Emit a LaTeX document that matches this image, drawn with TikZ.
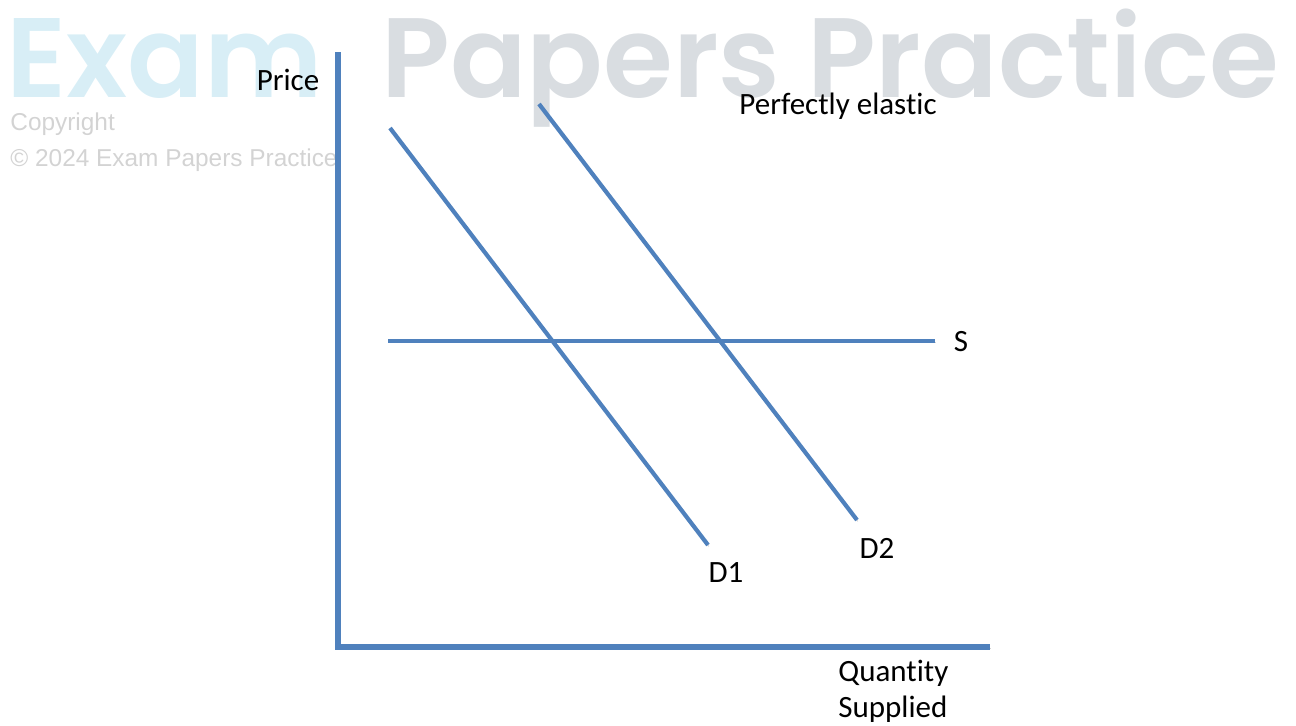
\documentclass[tikz,border=0pt]{standalone}
\usepackage{fontspec}
\setmainfont{Carlito}[Ligatures=CommonOff]
\newfontfamily\markfont{Poppins SemiBold}
\newfontfamily\notefont{Liberation Sans}
\usetikzlibrary{positioning}
\definecolor{CurveBlue}{HTML}{4F81BD}
\definecolor{MarkBlue}{HTML}{D8EEF6}
\definecolor{MarkGray}{HTML}{D9DDE1}
\definecolor{NoteGray}{HTML}{D3D3D3}

\begin{document}
\begin{tikzpicture}[
    x=0.5pt, y=-0.5pt,
    shade/.style={preaction={draw=black, opacity=0.18, transform canvas={shift={(0.4pt,-0.7pt)}}}},
    axis/.style={shade, draw=CurveBlue, line width=2.6pt},
    curve/.style={shade, draw=CurveBlue, line width=2.1pt},
    label/.style={font=\fontsize{15.5}{18}\selectfont, inner sep=0pt},
    wmark/.style={font=\markfont\fontsize{56.5}{60}\selectfont, inner sep=0pt, anchor=base west},
    note/.style={font=\notefont\fontsize{12.2}{14}\selectfont, text=NoteGray, inner sep=0pt, anchor=base west}
]
\useasboundingbox (0,0) rectangle (1296,725);

% watermark
\node[wmark, text=MarkBlue] (wmexam) at (6,97) {Exam};
\node[wmark, text=MarkGray] (wmpapers) at (381,97) {Papers Practice};
\node[note] (wmcopy) at (10,130) {Copyright};
\node[note] (wmyear) at (10,166) {\textcopyright{} 2024 Exam Papers Practice};

% axes
\coordinate (origin) at (338,647);
\coordinate (ytop) at (338,52);
\coordinate (xend) at (990,647);
\draw[axis] (ytop) -- (origin) -- (xend);

% curves
\coordinate (d1a) at (390,128);
\coordinate (d1b) at (708,545);
\coordinate (d2a) at (539,104);
\coordinate (d2b) at (857,520);
\coordinate (sa) at (388,341);
\coordinate (sb) at (935,341);
\draw[curve] (d1a) -- (d1b);
\draw[curve] (d2a) -- (d2b);
\draw[curve] (sa) -- (sb);

% labels
\node[label] (price) at (288,80) {Price};
\node[label] (elastic) at (838,106) {Perfectly elastic};
\node[label] (slab) at (961,342) {S};
\node[label] (d1lab) at (726,573) {D1};
\node[label] (d2lab) at (877,548) {D2};
\node[label, align=left, anchor=north west] (qlab) at (838,660) {Quantity\\Supplied};

\end{tikzpicture}
\end{document}
